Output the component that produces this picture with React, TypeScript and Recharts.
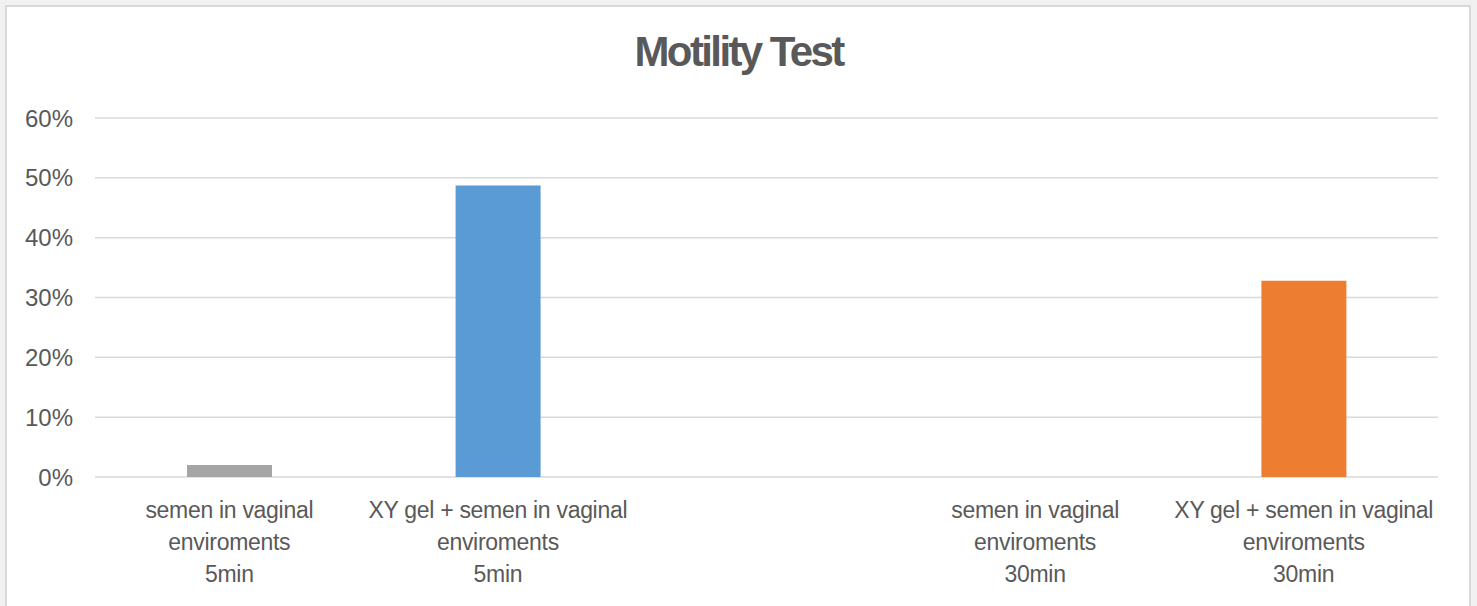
import { BarChart, Bar, XAxis, YAxis, CartesianGrid, Cell } from "recharts";

const categories = [
  "semen in vaginal\nenviroments\n5min",
  "XY gel + semen in vaginal\nenviroments\n5min",
  "",
  "semen in vaginal\nenviroments\n30min",
  "XY gel + semen in vaginal\nenviroments\n30min",
];
const motility = [0.02, 0.487, null, 0, 0.328];
const barColors = ["#a5a5a5", "#5b9bd5", "#a5a5a5", "#a5a5a5", "#ed7d31"];
const yTicks = [0, 0.1, 0.2, 0.3, 0.4, 0.5, 0.6];

const data = categories.map((c, i) => ({ key: `c${i}`, label: c, value: motility[i] }));

const FONT = "'Liberation Sans', Arial, sans-serif";

function XTick(props: any) {
  const { x, y, index } = props;
  const lines = categories[index] ? categories[index].split("\n") : [];
  return (
    <text x={x} y={y} textAnchor="middle" fill="#595959" fontSize={23} fontFamily={FONT} letterSpacing={-0.3}>
      {lines.map((l, i) => (
        <tspan key={i} x={x} y={y + 41 + i * 32}>
          {l}
        </tspan>
      ))}
    </text>
  );
}

export default function App() {
  return (
    <div style={{ position: "absolute", left: 0, top: 0, width: 1477, height: 606, background: "#f1f1f1", overflow: "hidden" }}>
      {/* white chart frame */}
      <div
        style={{
          position: "absolute",
          left: 5,
          top: 5,
          width: 1462,
          height: 620,
          background: "#fff",
          border: "2px solid #d9d9d9",
        }}
      />
      <div
        style={{
          position: "absolute",
          left: 0,
          width: 1477,
          top: 28,
          textAlign: "center",
          fontFamily: FONT,
          fontWeight: "bold",
          fontSize: 42,
          letterSpacing: -2.6,
          color: "#595959",
        }}
      >
        Motility Test
      </div>
      <div style={{ position: "absolute", left: 0, top: 0 }}>
        <BarChart width={1477} height={606} data={data} margin={{ top: 118, right: 39, bottom: 29, left: 0 }}>
          <CartesianGrid vertical={false} stroke="#d9d9d9" strokeWidth={1.5} />
          <XAxis
            dataKey="key"
            axisLine={false}
            tickLine={false}
            tickSize={0}
            tickMargin={0}
            interval={0}
            height={100}
            tick={<XTick />}
          />
          <YAxis
            width={95}
            domain={[0, 0.6]}
            ticks={yTicks}
            axisLine={false}
            tickLine={false}
            tickSize={6}
            tickMargin={16}
            tickFormatter={(v: number) => `${Math.round(v * 100)}%`}
            tick={{ fill: "#595959", fontSize: 24, fontFamily: FONT }}
          />
          <Bar dataKey="value" barSize={85} isAnimationActive={false}>
            {data.map((d, i) => (
              <Cell key={d.key} fill={barColors[i]} />
            ))}
          </Bar>
        </BarChart>
      </div>
    </div>
  );
}
